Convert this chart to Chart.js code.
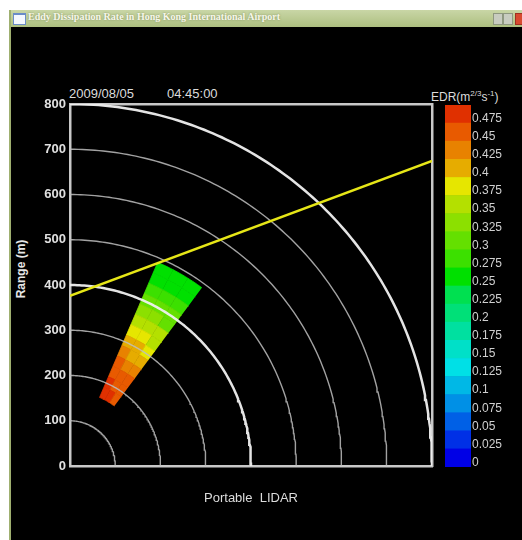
<!DOCTYPE html>
<html>
<head>
<meta charset="utf-8">
<title>EDR</title>
<script src="https://cdn.jsdelivr.net/npm/chart.js@4"></script>
<style>
body { margin:0; width:522px; height:540px; background:#fff; position:relative; overflow:hidden; font-family:"Liberation Sans", Arial, sans-serif; }
#frame { position:absolute; left:9px; top:10px; width:513px; height:530px; background:#9fb070; }
#titlebar { position:absolute; left:11px; top:10px; width:511px; height:17px; background:linear-gradient(#c9d6a6, #adbf80); }
#icon { position:absolute; left:13px; top:13px; width:11px; height:9px; background:#f4f8ff; border:1px solid #6a8cc8; border-top-width:2px; }
#wintitle { position:absolute; left:28px; top:11px; font:bold 10px "Liberation Serif", serif; color:#f6f6ea; text-shadow:0 0 2px #7f8f58; white-space:nowrap; }
.btn { position:absolute; top:13px; width:8px; height:10px; background:#c8ccc0; border:1px solid #8f9880; }
#content { position:absolute; left:11px; top:27px; width:511px; height:513px; background:#000; }
.lbl { position:absolute; color:#dcdcdc; white-space:nowrap; }
#main { position:absolute; left:0; top:0; }
#bar { position:absolute; left:445px; top:95px; }
</style>
</head>
<body>
<div id="frame"></div>
<div id="titlebar"></div>
<div id="icon"></div>
<div id="wintitle">Eddy Dissipation Rate in Hong Kong International Airport</div>
<div class="btn" style="left:493px"></div>
<div class="btn" style="left:503px"></div>
<div class="btn" style="left:515px;background:#d84a30;border-color:#a03020"></div>
<div id="content"></div>

<div class="lbl" style="left:69px;top:86px;font-size:13px">2009/08/05</div>
<div class="lbl" style="left:167px;top:86px;font-size:13px">04:45:00</div>
<div class="lbl" style="left:431px;top:89px;font-size:12px">EDR(m<sup style="font-size:8px">2/3</sup>s<sup style="font-size:8px">-1</sup>)</div>
<div class="lbl" style="left:-8px;top:262px;font-size:12px;font-weight:bold;transform:rotate(-90deg);color:#e6e6e6">Range (m)</div>

<canvas id="main" width="522" height="540"></canvas>
<canvas id="bar" width="77" height="382"></canvas>

<script>
// range rings (m)
const rangeRings = [100, 200, 300, 400, 500, 600, 700, 800];
const majorRings = [400, 800];

// LIDAR scan: range gate edges (m) and beam edges (deg from east)
const gateEdges = [165, 190, 215, 240, 265, 290, 315, 340, 365, 390, 415, 440, 465, 490];
const beamEdges = [53.5, 57.9, 62.3, 66.7];

// EDR per gate, inner to outer, one array per beam
const edrBeam1 = [0.47, 0.46, 0.45, 0.43, 0.41, 0.39, 0.37, 0.35, 0.32, 0.30, 0.28, 0.26, 0.25];
const edrBeam2 = [0.48, 0.47, 0.46, 0.44, 0.42, 0.40, 0.38, 0.36, 0.33, 0.31, 0.28, 0.27, 0.26];
const edrBeam3 = [0.49, 0.48, 0.46, 0.45, 0.43, 0.41, 0.39, 0.37, 0.34, 0.31, 0.29, 0.27, 0.26];
const edrBeams = [edrBeam1, edrBeam2, edrBeam3];

// glide path line
const glideX = [0, 800];
const glideY = [376, 674];

// colour scale
const edrLevels = [0, 0.025, 0.05, 0.075, 0.1, 0.125, 0.15, 0.175, 0.2, 0.225,
                   0.25, 0.275, 0.3, 0.325, 0.35, 0.375, 0.4, 0.425, 0.45, 0.475];
const edrColors = ['#0000e6', '#0030e6', '#0060e6', '#0090e6', '#00b8e6', '#00e0e6', '#00e0c8', '#00e0a0', '#00e078', '#00e050',
                   '#00e000', '#3ce000', '#64e000', '#8ce000', '#b4e000', '#e6e600', '#e6ac00', '#e88200', '#e85a00', '#e03000'];

Chart.defaults.font.family = "'Liberation Sans', Arial, sans-serif";
Chart.defaults.color = '#dcdcdc';

function colorFor(v) {
    let idx = 0;
    edrLevels.forEach((lv, i) => { if (v >= lv) idx = i; });
    return edrColors[idx];
}

function arcPoints(r, a0, a1, n) {
    const pts = [];
    for (let i = 0; i <= n; i++) {
        const a = (a0 + (a1 - a0) * i / n) * Math.PI / 180;
        pts.push({x: r * Math.cos(a), y: r * Math.sin(a)});
    }
    return pts;
}

const datasets = [];

// scan cells
edrBeams.forEach((beam, b) => {
    beam.forEach((v, g) => {
        const a0 = beamEdges[b], a1 = beamEdges[b + 1];
        const pts = arcPoints(gateEdges[g], a0, a1, 6).concat(arcPoints(gateEdges[g + 1], a1, a0, 6));
        const c = colorFor(v);
        datasets.push({
            data: pts, showLine: true, pointRadius: 0, tension: 0,
            borderColor: c, backgroundColor: c, borderWidth: 0.8, fill: 'shape', order: 3
        });
    });
});

// range rings
rangeRings.forEach(r => {
    const major = majorRings.includes(r);
    datasets.push({
        data: arcPoints(r, 0, 90, 120), showLine: true, pointRadius: 0, fill: false,
        borderColor: major ? 'rgba(240,240,240,0.95)' : 'rgba(190,190,190,0.85)',
        borderWidth: major ? 2.5 : 1.4, order: 2
    });
});

// glide path
datasets.push({
    data: glideX.map((x, i) => ({x: x, y: glideY[i]})), showLine: true, pointRadius: 0, fill: false,
    borderColor: '#e6e617', borderWidth: 2.5, order: 1
});

new Chart(document.getElementById('main'), {
    type: 'scatter',
    data: {datasets: datasets},
    options: {
        responsive: false,
        animation: false,
        events: [],
        layout: {padding: {left: 0, top: 104, right: 90, bottom: 30}},
        plugins: {legend: {display: false}, tooltip: {enabled: false}},
        scales: {
            x: {
                type: 'linear', min: 0, max: 800, position: 'bottom',
                grid: {display: false, drawTicks: false},
                border: {color: '#c8c8c8', width: 2.5},
                ticks: {display: false},
                title: {display: true, text: 'Portable  LIDAR', color: '#dcdcdc', font: {size: 13}, padding: {top: 20, bottom: 4}},
                afterFit: s => { s.height = 44; }
            },
            y: {
                type: 'linear', min: 0, max: 800, position: 'left',
                grid: {display: false, drawTicks: false},
                border: {color: '#c8c8c8', width: 2.5},
                ticks: {stepSize: 100, padding: 4, color: '#e0e0e0', font: {size: 13, weight: 'bold'}},
                afterFit: s => { s.width = 70; }
            },
            x2: {
                type: 'linear', min: 0, max: 800, position: 'top',
                grid: {display: false, drawTicks: false},
                border: {color: '#c8c8c8', width: 2.5},
                ticks: {display: false},
                afterFit: s => { s.height = 0; }
            },
            y2: {
                type: 'linear', min: 0, max: 800, position: 'right',
                grid: {display: false, drawTicks: false},
                border: {color: '#c8c8c8', width: 2.5},
                ticks: {display: false},
                afterFit: s => { s.width = 0; }
            }
        }
    }
});

// colour bar
new Chart(document.getElementById('bar'), {
    type: 'bar',
    data: {
        labels: ['EDR'],
        datasets: edrLevels.map((lv, i) => ({
            data: [0.025], backgroundColor: edrColors[i], borderWidth: 0,
            barPercentage: 1, categoryPercentage: 1
        }))
    },
    options: {
        responsive: false,
        animation: false,
        events: [],
        layout: {padding: {left: 0, top: 10, right: 0, bottom: 10}},
        plugins: {legend: {display: false}, tooltip: {enabled: false}},
        scales: {
            x: {stacked: true, display: false},
            y: {
                stacked: true, position: 'right', min: 0, max: 0.5,
                grid: {display: false, drawTicks: false},
                border: {display: false},
                afterBuildTicks: s => { s.ticks = edrLevels.map(v => ({value: v + 0.0062})); },
                ticks: {autoSkip: false, padding: 1, color: '#d0d0d0', font: {size: 12},
                        callback: (v, i) => String(edrLevels[i])},
                afterFit: s => { s.width = 51; }
            }
        }
    }
});
</script>
</body>
</html>
